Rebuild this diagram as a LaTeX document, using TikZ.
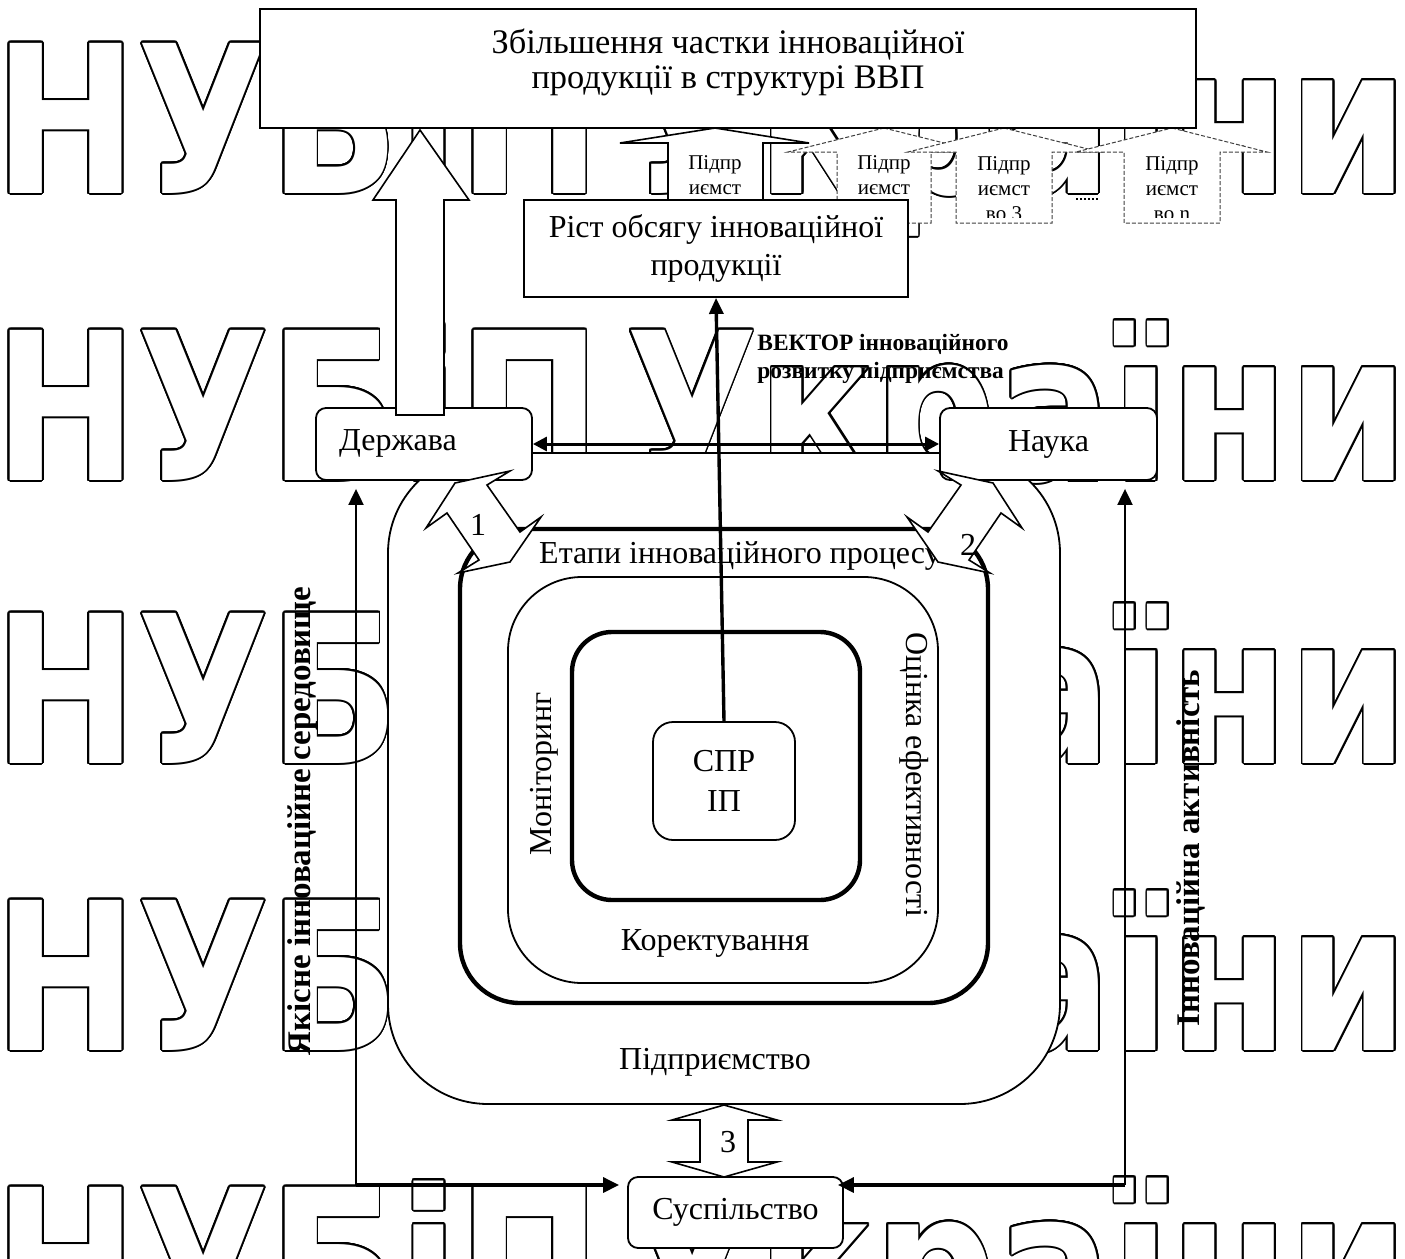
\documentclass[tikz,border=0pt]{standalone}
\usepackage{fontspec}
\setmainfont{Liberation Serif}
\newfontfamily\wmfont{DejaVu Sans}
\usepackage[copies]{contour}
\contourlength{1pt}
\contournumber{24}
\usetikzlibrary{arrows.meta}
\tikzset{
  frame/.style={draw, line width=0.9pt, fill=white, inner sep=0pt},
  rbox/.style={frame, rounded corners=5pt},
  txt/.style={inner sep=0pt, font=\fontsize{16}{17.5}\selectfont, align=center},
  vtxt/.style={inner sep=0pt, font=\fontsize{16.5}{18}\selectfont\bfseries},
  smalltxt/.style={inner sep=0pt, font=\fontsize{10.5}{12.5}\selectfont, align=center},
  hollow/.style={draw, line width=0.8pt, fill=white, line join=miter},
  dashedarrow/.style={draw=black!75, line width=0.5pt, dash pattern=on 2pt off 1pt, fill=white},
  tip/.style={-{Triangle[length=8pt,width=7.5pt]}},
  wm/.style={anchor=base west, inner sep=0pt},
}
\newcommand\wmline{\scalebox{0.83}[1]{\color{white}\contour{black}{\wmfont\bfseries\fontsize{103}{103}\selectfont НУБіП\hspace{15pt}України}}}
\begin{document}
\begin{tikzpicture}[x=0.5pt,y=-0.5pt]
\useasboundingbox (0,0) rectangle (1405,1259);
\fill[white] (0,0) rectangle (1405,1259);
\clip (0,0) rectangle (1405,1259);
% watermark
\node[wm] (wm1) at (-6,193) {\wmline};
\node[wm] (wm2) at (-6,480) {\wmline};
\node[wm] (wm3) at (-6,763) {\wmline};
\node[wm] (wm4) at (-6,1050) {\wmline};
\node[wm] (wm5) at (-6,1337) {\wmline};
% enterprise nest
\node[rbox, rounded corners=50pt, minimum width=336pt, minimum height=325.5pt] (firm) at (724,778.5) {};
\node[draw, line width=2.2pt, rounded corners=30pt, minimum width=264pt, minimum height=237pt, inner sep=0pt] (stages) at (724,766) {};
\node[draw, line width=0.9pt, rounded corners=37pt, minimum width=215pt, minimum height=203pt, inner sep=0pt] (cycle) at (723,780) {};
\node[draw, line width=2.2pt, rounded corners=20pt, minimum width=144pt, minimum height=134pt, inner sep=0pt] (core) at (716,766) {};
\node[rbox, rounded corners=10pt, minimum width=71pt, minimum height=59pt, txt, font=\fontsize{16}{20}\selectfont] (spr) at (724,781) {СПР\\ІП};
\node[txt] (stagestxt) at (740,556) {Етапи інноваційного процесу};
\node[txt, rotate=90] (montxt) at (544,774) {Моніторинг};
\node[txt, rotate=-90] (evaltxt) at (914,775) {Оцінка ефективності};
\node[txt] (corrtxt) at (715,943) {Коректування};
\node[txt] (firmtxt) at (715,1062) {Підприємство};
% state and science
\node[rbox, minimum width=108pt, minimum height=36pt] (derzh) at (424,444) {};
\node[txt] (derzhtxt) at (398,443) {Держава};
\node[rbox, minimum width=108.5pt, minimum height=36pt, txt] (nauka) at (1048.5,444) {Наука};
\draw[line width=1.5pt, {Triangle[length=7pt,width=7pt]}-{Triangle[length=7pt,width=7pt]}] (derzh.east) -- (nauka.west);
% zigzag links
\draw[hollow] (510,471) -- (455,483) -- (426,528) -- (447,513) -- (479,560) -- (458,573) -- (510,562) -- (541,517) -- (520,532) -- (487,485) -- cycle;
\draw[hollow] (938,471) -- (993,483) -- (1022,528) -- (1001,513) -- (969,560) -- (990,573) -- (938,562) -- (907,517) -- (928,532) -- (961,485) -- cycle;
\node[txt] (n1) at (478,525) {1};
\node[txt] (n2) at (968,545) {2};
% big hollow arrow
\draw[hollow] (396,415) -- (396,200) -- (373,200) -- (420,130) -- (469,200) -- (444,200) -- (444,415) -- cycle;
% enterprise arrows
\draw[dashedarrow] (884,128) -- (980,152) -- (931,152) -- (931,223) -- (837,223) -- (837,152) -- (788,152) -- cycle;
\node[smalltxt] (a2t) at (884,175) {Підпр\\иємст};
\draw[dashedarrow] (1004,128) -- (1100,152) -- (1052,152) -- (1052,223) -- (956,223) -- (956,152) -- (908,152) -- cycle;
\begin{scope}
\clip (956,152) rectangle (1052,217);
\node[smalltxt] (a3t) at (1004,189) {Підпр\\иємст\\во 3};
\end{scope}
\draw[dashedarrow] (1172,128) -- (1267,152) -- (1220,152) -- (1220,223) -- (1124,223) -- (1124,152) -- (1076,152) -- cycle;
\begin{scope}
\clip (1124,152) rectangle (1220,217);
\node[smalltxt] (ant) at (1172,189) {Підпр\\иємст\\во n};
\end{scope}
\coordinate (d1) at (1076,199);
\coordinate (d2) at (1100,199);
\draw[line width=1pt, dash pattern=on 1pt off 1pt] (d1) -- (d2);
\draw[hollow] (715,128) -- (809,143) -- (763,143) -- (763,235) -- (668,235) -- (668,143) -- (620,143) -- cycle;
\node[smalltxt] (a1t) at (715,175) {Підпр\\иємст};
% goal and growth
\node[frame, minimum width=468pt, minimum height=59.5pt] (goal) at (728,68.5) {};
\node[txt, font=\fontsize{17.2}{17.5}\selectfont] (goaltxt) at (728,62.5) {Збільшення частки інноваційної\\продукції в структурі ВВП};
\node[frame, minimum width=192pt, minimum height=48.5pt, txt, font=\fontsize{16}{19}\selectfont] (rist) at (716,248.5) {Ріст обсягу інноваційної\\продукції};
\draw[line width=1.7pt, -{Triangle[length=8pt,width=7pt]}] (spr.north) -- (rist.south);
\node[anchor=west, inner sep=0pt, align=left, font=\fontsize{11.7}{14}\selectfont\bfseries] (vectxt) at (757,359) {ВЕКТОР інноваційного\\розвитку підприємства};
% society
\node[rbox, minimum width=107.5pt, minimum height=35.5pt, txt] (sus) at (735.5,1212.5) {Суспільство};
\draw[hollow] (724,1105) -- (777,1120) -- (748,1120) -- (748,1162) -- (777,1162) -- (724,1177) -- (672,1162) -- (700,1162) -- (700,1120) -- (672,1120) -- cycle;
\node[txt] (n3) at (728,1142) {3};
\coordinate (cl) at (356,1185);
\coordinate (cr) at (1125,1185);
\draw[line width=1pt, tip, shorten >=4pt] (cl) -- (cl |- derzh.south);
\draw[line width=1.6pt, tip, shorten >=4pt] (cl) -- (cl -| sus.west);
\draw[line width=1pt, tip, shorten >=4pt] (cr) -- (cr |- nauka.south);
\draw[line width=1.6pt, tip, shorten >=-3pt] (cr) -- (cr -| sus.east);
\node[vtxt, rotate=90] (envtxt) at (303,821) {Якісне інноваційне середовище};
\node[vtxt, rotate=90] (acttxt) at (1191,848) {Інноваційна активність};
\end{tikzpicture}
\end{document}
